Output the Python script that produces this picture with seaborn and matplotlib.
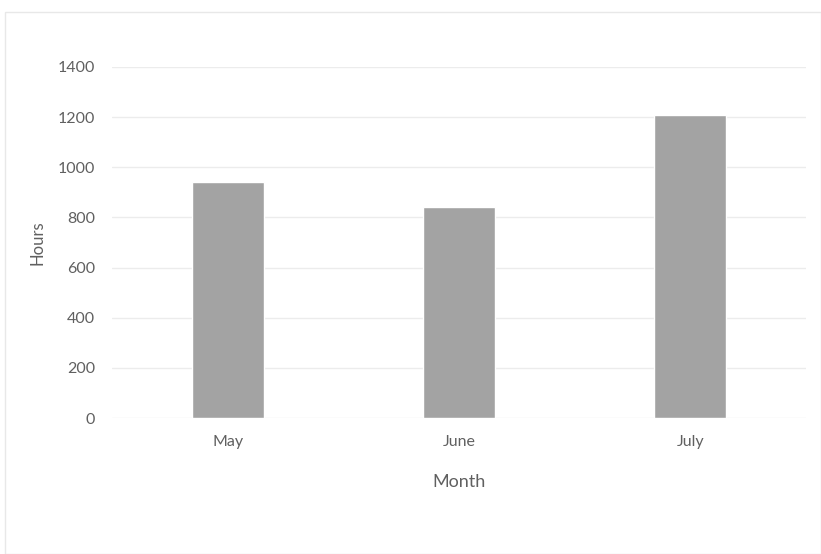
import matplotlib
matplotlib.use("Agg")
import matplotlib.pyplot as plt
import seaborn as sns
import pandas as pd
from matplotlib.patches import Rectangle

months = ["May", "June", "July"]
hours = [942, 842, 1210]
yticks = [0, 200, 400, 600, 800, 1000, 1200, 1400]

sns.set_theme(style="white")
plt.rcParams['font.family'] = ['Lato', 'DejaVu Sans']

df = pd.DataFrame({"Month": months, "Hours": hours})

fig = plt.figure(figsize=(8.21, 5.54), dpi=100)
ax = fig.add_axes([112/821, 1-418/554, (806-112)/821, (418-67)/554])

sns.barplot(data=df, x="Month", y="Hours", color="#a3a3a3", width=0.31,
            saturation=1, ax=ax, zorder=3)

ax.set_ylim(0, 1400)
ax.set_yticks(yticks)
ax.set_yticklabels([str(v) for v in yticks])
ax.yaxis.grid(True, color="#ececec", linewidth=1.0, zorder=0)
ax.set_axisbelow(True)
for s in ax.spines.values():
    s.set_visible(False)
ax.tick_params(axis='both', length=0, labelsize=11.5, colors="#606060")
ax.tick_params(axis='y', pad=12)
ax.tick_params(axis='x', pad=12.5)
ax.set_xlabel("Month", fontsize=13, color="#606060", labelpad=18)
ax.set_ylabel("Hours", fontsize=12, color="#606060", labelpad=9)

fig.patches.append(Rectangle((5/821, 0.0), 816/821, 1-12/554, transform=fig.transFigure,
                             fill=False, edgecolor="#e8e8e8", linewidth=1))

fig.savefig("out.png", dpi=100)
